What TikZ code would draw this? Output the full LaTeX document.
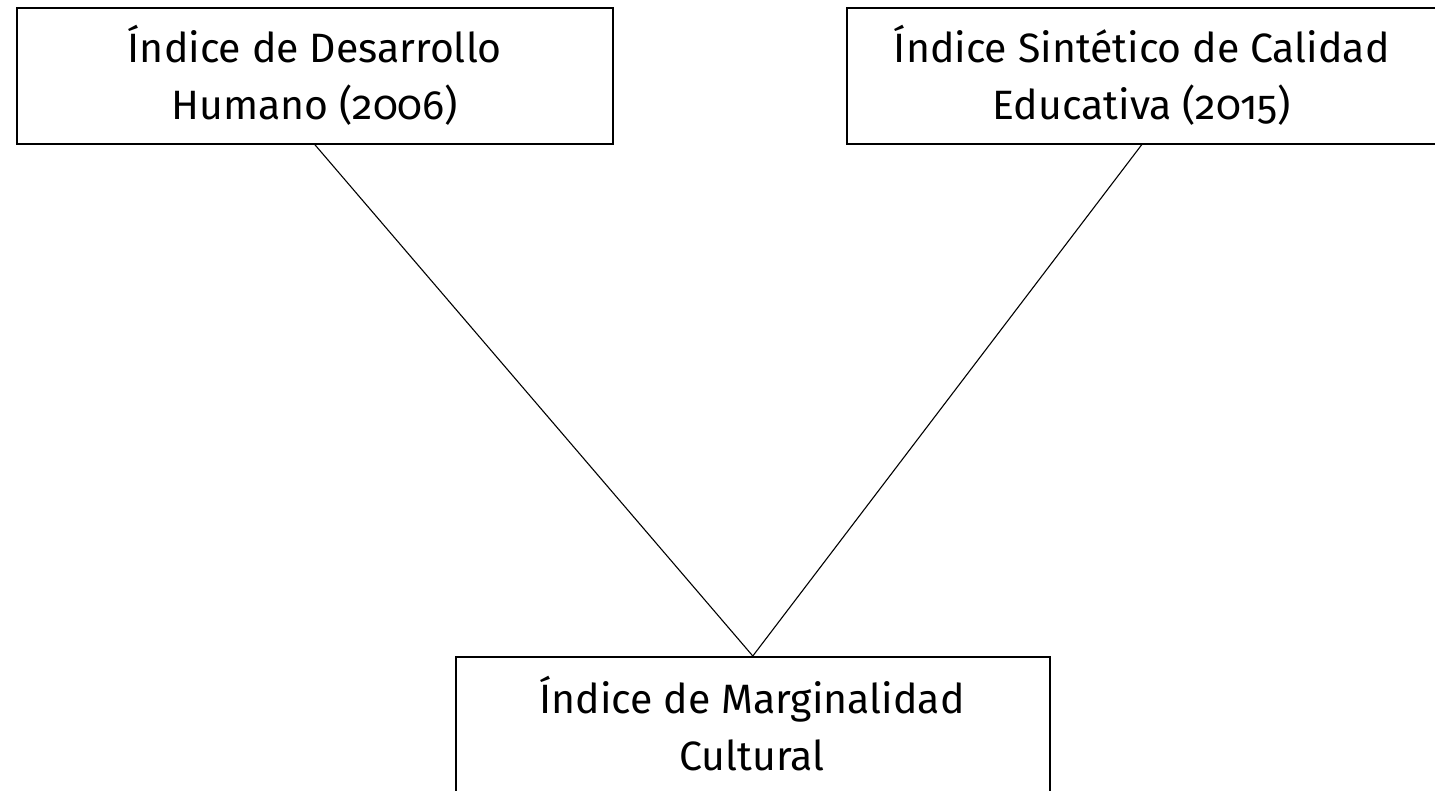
\documentclass[tikz,border=0pt]{standalone}
\usepackage{fontspec}
\setmainfont{Fira Sans}[Numbers=OldStyle]
\begin{document}
\begin{tikzpicture}[x=1pt,y=-1pt,
  txt/.style={font=\fontsize{41}{57}\selectfont,align=center,inner sep=0pt},
  box/.style={draw,line width=1.6pt,rectangle,inner sep=0pt,anchor=north west},
  link/.style={line width=1.1pt}]
\useasboundingbox (0,0) rectangle (1435,791);
\clip (0,0) rectangle (1435,791);
\node[box,txt,minimum width=596pt,minimum height=136pt] (idh) at (16,7)
  {Índice de Desarrollo\\Humano (2006)};
\node[box,txt,minimum width=590pt,minimum height=136pt] (isce) at (846,7)
  {Índice Sintético de Calidad\\Educativa (2015)};
\node[box,minimum width=594pt,minimum height=160pt] (imc) at (455,656) {};
\node[txt] (imct) at (752,724) {Índice de Marginalidad\\Cultural};
\draw[link] (idh.south) -- (imc.north);
\draw[link] (isce.south) -- (imc.north);
\end{tikzpicture}
\end{document}
